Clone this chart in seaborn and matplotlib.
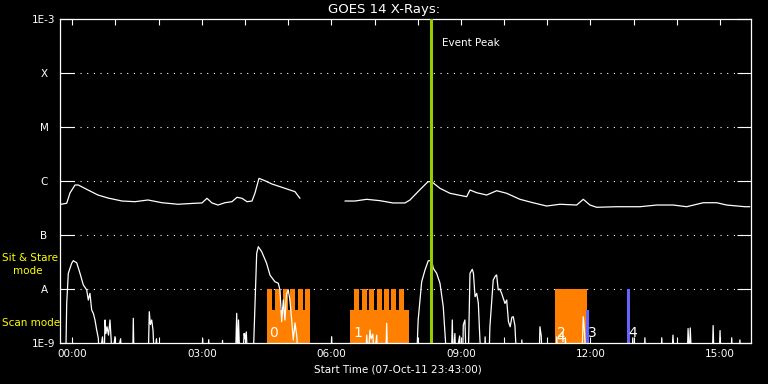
import numpy as np
import pandas as pd
import matplotlib
matplotlib.use("Agg")
import matplotlib.pyplot as plt
import seaborn as sns
from matplotlib.ticker import NullLocator, FixedLocator

# ---------------- data ----------------
# time axis: hours after 00:00 (start 07-Oct-11 23:43 -> -17 min)
t_start = -17 / 60
t_end = t_start + 16

# long channel (1-8 A), two segments separated by a data gap
long_t1 = [-0.26, -0.128, -0.052, 0.064, 0.14, 0.365, 0.596, 0.828, 1.152, 1.453, 1.754,
           2.078, 2.449, 2.842, 3.004, 3.12, 3.236, 3.375, 3.537, 3.699, 3.815, 3.931,
           4.047, 4.162, 4.232, 4.324, 4.463, 4.625, 4.926, 5.158, 5.273]
long_v1 = [3.71e-7, 3.87e-7, 6.0e-7, 8.43e-7, 8.43e-7, 6.81e-7, 5.5e-7, 4.84e-7, 4.26e-7,
           4.14e-7, 4.45e-7, 3.96e-7, 3.71e-7, 3.87e-7, 3.92e-7, 4.78e-7, 3.92e-7, 3.59e-7,
           3.96e-7, 4.14e-7, 4.99e-7, 4.78e-7, 4.14e-7, 4.26e-7, 6.0e-7, 1.12e-6, 1.01e-6,
           8.79e-7, 7.32e-7, 6.34e-7, 4.78e-7]
long_t2 = [6.315, 6.547, 6.818, 7.126, 7.427, 7.705, 7.82, 8.006, 8.237, 8.323, 8.515,
           8.747, 9.133, 9.21, 9.365, 9.596, 9.828, 10.059, 10.367, 10.668, 10.985, 11.293,
           11.68, 11.833, 11.988, 12.143, 12.606, 13.146, 13.532, 13.917, 14.227, 14.611,
           14.922, 15.153, 15.577, 15.69]
long_v2 = [4.26e-7, 4.26e-7, 4.58e-7, 4.32e-7, 3.92e-7, 3.92e-7, 4.45e-7, 6.34e-7, 9.7e-7,
           9.7e-7, 7.32e-7, 5.92e-7, 5.12e-7, 6.81e-7, 6.07e-7, 5.5e-7, 6.61e-7, 5.92e-7,
           4.58e-7, 3.96e-7, 3.44e-7, 3.71e-7, 3.59e-7, 4.58e-7, 3.59e-7, 3.26e-7, 3.34e-7,
           3.34e-7, 3.59e-7, 3.59e-7, 3.34e-7, 3.96e-7, 3.96e-7, 3.59e-7, 3.34e-7, 3.34e-7]

# short channel (0.5-4 A); 5e-10 = below the plotted range
B = 5e-10
short_t = [-0.15, -0.128, -0.091, -0.013, 0.025, 0.06, 0.103, 0.18, 0.256, 0.335, 0.372,
           0.41, 0.45, 0.49, 0.527, 0.566, 0.603, 0.63, 0.70, 0.74, 0.759, 0.78, 0.805,
           0.84, 0.874, 0.90, 0.92, 0.99, 1.02, 1.12, 1.15, 1.40, 1.414, 1.43, 1.76, 1.784,
           1.81, 1.84, 1.87, 1.90, 1.95, 1.98, 3.00, 3.02, 3.04, 3.14, 3.16, 3.18, 3.46,
           3.48, 3.50, 3.78, 3.808, 3.83, 3.85, 3.88, 3.95, 3.98, 4.0, 4.03, 4.06, 4.19,
           4.271, 4.308, 4.387, 4.50, 4.58, 4.695, 4.771, 4.81, 4.85, 4.887, 4.926, 4.96,
           5.002, 5.04, 5.081, 5.118, 5.158, 5.20, 5.23, 5.99, 6.007, 6.02, 6.80, 6.818,
           6.85, 6.894, 6.92, 6.96, 6.99, 7.05, 7.07, 7.26, 7.281, 7.30, 7.975, 8.01,
           8.091, 8.168, 8.244, 8.323, 8.36, 8.438, 8.515, 8.591, 8.631, 8.67, 8.78, 8.80,
           8.82, 8.86, 8.88, 8.97, 8.99, 9.04, 9.055, 9.092, 9.12, 9.17, 9.21, 9.263, 9.29,
           9.327, 9.365, 9.403, 9.44, 9.47, 9.55, 9.56, 9.58, 9.65, 9.671, 9.748, 9.80,
           9.827, 9.864, 9.90, 9.943, 10.02, 10.06, 10.10, 10.14, 10.18, 10.212, 10.25,
           10.29, 10.40, 10.41, 10.43, 10.81, 10.83, 10.86, 10.88, 11.20, 11.22, 11.24,
           11.40, 11.42, 11.44, 11.80, 11.833, 11.86, 11.89, 12.96, 12.98, 13.0, 13.24,
           13.26, 13.28, 13.63, 13.65, 13.67, 13.88, 13.91, 13.94, 14.24, 14.26, 14.29,
           14.31, 14.34, 14.82, 14.84, 14.86, 14.98, 15.0, 15.02, 15.25, 15.27, 15.29,
           15.44, 15.46, 15.48, 15.72]
short_v = [B, 5.4e-9, 1.95e-8, 3.0e-8, 3.35e-8, 3.2e-8, 3.07e-8, 1.95e-8, 1.19e-8, 9.6e-9,
           6.25e-9, 8.3e-9, 4.1e-9, 3.5e-9, 2.67e-9, 1.74e-9, 1.24e-9, B, 1.3e-9, B,
           2.67e-9, 1.5e-9, 2.0e-9, 1.4e-9, 2.67e-9, 1.2e-9, B, 1.31e-9, B, 1.2e-9, B, B,
           2.87e-9, B, B, 3.8e-9, 2.2e-9, 2.67e-9, 1.74e-9, B, 1.2e-9, B, B, 1.2e-9, B, B,
           1.15e-9, B, B, 1.12e-9, B, B, 3.55e-9, B, 2.67e-9, B, B, 1.5e-9, 1.2e-9, 1.6e-9,
           B, B, 4.58e-8, 6.07e-8, 4.91e-8, 3.0e-8, 1.8e-8, 1.36e-8, 1.28e-8, 9.6e-9,
           2.48e-9, 6.25e-9, 2.67e-9, 8e-9, 9.6e-9, 6.25e-9, 2.67e-9, 1.14e-9, 2.35e-9,
           1.35e-9, B, B, 1.31e-9, B, B, 1.4e-9, B, 1.74e-9, 1.2e-9, 1.45e-9, B, 1.4e-9, B,
           B, 2.32e-9, B, B, 2.67e-9, 1.36e-8, 2.25e-8, 3.34e-8, 3.34e-8, 2.42e-8, 1.95e-8,
           1.28e-8, 4.7e-9, 1.51e-9, B, B, 2.67e-9, B, 1.5e-9, B, 1.35e-9, B, B, 2.15e-9,
           2.67e-9, B, B, 1.95e-8, 2.32e-8, 1.95e-8, 7.2e-9, 8.3e-9, 5.5e-9, 1.14e-9, B, B,
           1.3e-9, B, B, 2.0e-9, 1.47e-8, 1.75e-8, 1.82e-8, 9.6e-9, 1.0e-8, 8.3e-9, 5.4e-9,
           6.25e-9, 2.5e-9, 2.0e-9, 3.0e-9, 3.07e-9, 2.1e-9, B, B, 1.14e-9, B, B, 2.0e-9,
           1.35e-9, B, B, 1.3e-9, B, B, 1.25e-9, B, B, 3.07e-9, 1.7e-9, B, B, 1.25e-9, B, B,
           1.25e-9, B, B, 1.25e-9, B, B, 1.4e-9, B, B, 1.85e-9, B, 1.9e-9, B, B, 2.1e-9, B,
           B, 1.7e-9, B, B, 1.25e-9, B, B, 1.14e-9, B, B]

# observing modes
scan_level = 4.08e-9
stare_level = 1e-8
scan_blocks = [(4.502, 5.505), (6.431, 7.797)]          # (start, end) hours, orange
tooth_starts = [4.502, 4.695, 4.873, 5.042, 5.220, 5.400,
                6.531, 6.702, 6.878, 7.049, 7.218, 7.387, 7.573]
tooth_width = 0.112
stare_blocks = [(11.18, 11.91)]                          # orange, full height
blue_scan = [(11.887, 11.964)]
blue_stare = [(12.85, 12.91)]
event_labels = ["0", "1", "2", "4", "3", "4"]
event_label_t = [4.55, 6.50, 11.22, 11.22, 11.94, 12.87]
event_label_v = [1.55e-9, 1.55e-9, 1.5e-9, 1.25e-9, 1.5e-9, 1.5e-9]

peak_time = 8.30
ytick_vals = [1e-9, 1e-8, 1e-7, 1e-6, 1e-5, 1e-4, 1e-3]
ytick_labels = ["1E-9", "A", "B", "C", "M", "X", "1E-3"]
grid_levels = [1e-8, 1e-7, 1e-6, 1e-5, 1e-4]
xmajor = [0, 3, 6, 9, 12, 15]
xmajor_labels = ["00:00", "03:00", "06:00", "09:00", "12:00", "15:00"]

# ---------------- plot ----------------
sns.set_style("dark", rc={"axes.facecolor": "black", "figure.facecolor": "black"})
plt.rcParams["font.family"] = ["DejaVu Sans"]

W, H = 768, 384
fig = plt.figure(figsize=(W / 100, H / 100), dpi=100, facecolor="black")
ax = fig.add_axes([60 / W, 1 - 343 / H, 691 / W, 324 / H])
ax.set_facecolor("black")
ax.set_yscale("log")

ORANGE = "#ff8000"
BLUE = "#6464ff"

# mode bars
for s, e in scan_blocks:
    ax.bar(s, scan_level - 1e-9, width=e - s, bottom=1e-9, align="edge",
           color=ORANGE, linewidth=0, zorder=2)
for s in tooth_starts:
    ax.bar(s, stare_level - 1e-9, width=tooth_width, bottom=1e-9, align="edge",
           color=ORANGE, linewidth=0, zorder=2)
for s, e in stare_blocks:
    ax.bar(s, stare_level - 1e-9, width=e - s, bottom=1e-9, align="edge",
           color=ORANGE, linewidth=0, zorder=2)
for s, e in blue_scan:
    ax.bar(s, scan_level - 1e-9, width=e - s, bottom=1e-9, align="edge",
           color=BLUE, linewidth=0, zorder=2)
for s, e in blue_stare:
    ax.bar(s, stare_level - 1e-9, width=e - s, bottom=1e-9, align="edge",
           color=BLUE, linewidth=0, zorder=2)

# grid
for lev in grid_levels:
    ax.axhline(lev, color="white", lw=0.8, ls=(0, (1, 5)), zorder=1)

# curves
df_long = pd.DataFrame({
    "hour": long_t1 + long_t2,
    "flux": long_v1 + long_v2,
    "seg": [0] * len(long_t1) + [1] * len(long_t2),
})
df_short = pd.DataFrame({"hour": short_t, "flux": short_v, "seg": 2})
sns.lineplot(data=df_long, x="hour", y="flux", units="seg", estimator=None,
             color="white", lw=0.9, ax=ax, legend=False, sort=False, zorder=4)
sns.lineplot(data=df_short, x="hour", y="flux", units="seg", estimator=None,
             color="white", lw=0.9, ax=ax, legend=False, sort=False, zorder=4)

# event peak
ax.axvline(peak_time, color="#99cc00", lw=2.2, zorder=5)
ax.text(peak_time + 0.26, 3.6e-4, "Event Peak", color="white", fontsize=7.5,
        va="center", ha="left")

for lab, tx, vy in zip(event_labels, event_label_t, event_label_v):
    ax.text(tx, vy, lab, color="white", fontsize=10, va="center", ha="left", zorder=6)

ax.set_xlim(t_start, t_end)
ax.set_ylim(1e-9, 1e-3)

# ticks
ax.set_yticks(ytick_vals)
ax.set_yticklabels(ytick_labels)
ax.yaxis.set_minor_locator(NullLocator())
ax.tick_params(axis="y", which="major", direction="in", length=10, width=0.8,
               color="white", left=True, right=True, labelcolor="white",
               labelsize=7.5, pad=11.5)
for lbl in ax.get_yticklabels():
    lbl.set_ha("center")

ax.set_xticks(xmajor)
ax.set_xticklabels(xmajor_labels)
ax.xaxis.set_minor_locator(FixedLocator(list(range(0, 16))))
ax.tick_params(axis="x", which="both", direction="in", length=4.3, width=0.8,
               color="white", top=True, bottom=True, labelcolor="white",
               labelsize=7.5, pad=4)
ax.set_xlabel("")
ax.set_ylabel("")
ax.grid(False)

for sp in ax.spines.values():
    sp.set_color("white")
    sp.set_linewidth(0.9)
    sp.set_visible(True)

# titles and side labels
fig.text(384 / W, 1 - 9 / H, "GOES 14 X-Rays:", color="white", fontsize=9.5,
         ha="center", va="center")
fig.text(398 / W, 1 - 370 / H, "Start Time (07-Oct-11 23:43:00)", color="white",
         fontsize=7.5, ha="center", va="center")
fig.text(2 / W, 1 - 258 / H, "Sit & Stare", color="yellow", fontsize=7.5,
         ha="left", va="center")
fig.text(13 / W, 1 - 271 / H, "mode", color="yellow", fontsize=7.5,
         ha="left", va="center")
fig.text(2 / W, 1 - 323 / H, "Scan mode", color="yellow", fontsize=7.5,
         ha="left", va="center")

fig.savefig("out.png", dpi=100, facecolor="black")
